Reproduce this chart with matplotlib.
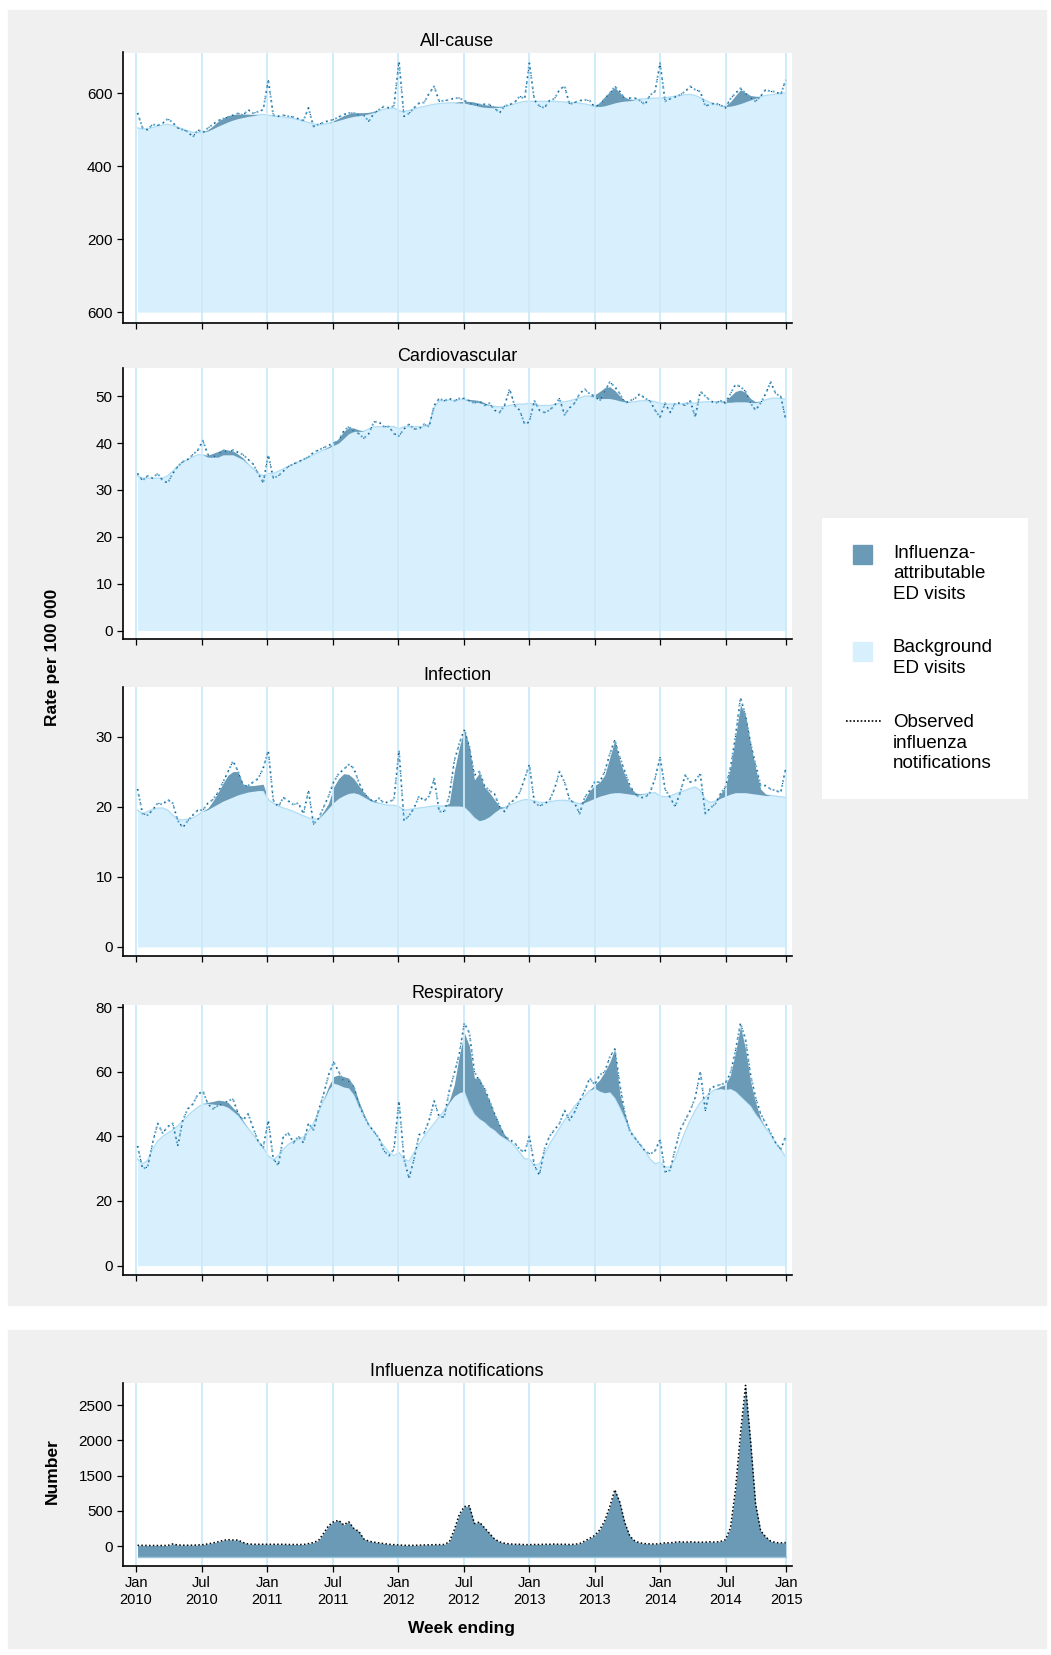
import numpy as np
import pandas as pd
import matplotlib
matplotlib.use('Agg')
import matplotlib.pyplot as plt
from matplotlib.patches import Rectangle

W, H = 1051, 1655
plt.rcParams['font.family'] = ['Liberation Sans', 'DejaVu Sans']

# fortnightly points, Jan 2010 - Dec 2014
weeks = pd.date_range('2010-01-05', periods=130, freq='14D')
xyear = np.array(weeks.year + (weeks.dayofyear - 1) / 365.0)

tick_pos = [2010, 2010.5, 2011, 2011.5, 2012, 2012.5, 2013, 2013.5, 2014, 2014.5, 2014.96]
tick_labels = ['Jan\n2010', 'Jul\n2010', 'Jan\n2011', 'Jul\n2011', 'Jan\n2012', 'Jul\n2012',
               'Jan\n2013', 'Jul\n2013', 'Jan\n2014', 'Jul\n2014', 'Jan\n2015']

# ---- All-cause ----
allcause_obs = [546, 505, 500, 515, 512, 518, 530, 520, 505, 500, 495, 480, 500, 492, 505, 515, 525, 530, 535, 540, 545, 540, 555, 545, 550, 555,
                637, 540, 537, 540, 537, 535, 530, 525, 560, 509, 515, 520, 525, 528, 535, 542, 546, 546, 540, 540, 523, 545, 555, 564, 560, 565,
                688, 537, 545, 560, 573, 575, 600, 619, 578, 580, 582, 587, 587, 580, 572, 569, 569, 570, 569, 560, 546, 565, 569, 575, 592, 585,
                683, 582, 565, 560, 580, 585, 610, 620, 570, 575, 580, 582, 580, 562, 570, 585, 600, 619, 605, 585, 587, 587, 580, 569, 595, 605,
                683, 578, 585, 590, 596, 605, 619, 610, 605, 565, 570, 573, 568, 560, 585, 600, 614, 600, 588, 578, 592, 610, 605, 605, 596, 637]
allcause_bg = [505, 502, 503, 506, 510, 513, 515, 512, 507, 502, 497, 493, 492, 493, 497, 503, 510, 516, 522, 527, 531, 534, 537, 539, 541, 542,
               540, 538, 537, 535, 533, 531, 528, 524, 520, 516, 514, 515, 518, 522, 526, 530, 534, 537, 539, 541, 544, 548, 552, 556, 559, 560,
               552, 550, 553, 557, 561, 564, 567, 570, 572, 573, 574, 574, 574, 573, 571, 568, 564, 562, 561, 561, 562, 564, 567, 571, 575, 578,
               578, 578, 578, 578, 578, 578, 577, 576, 575, 574, 573, 571, 568, 565, 564, 566, 570, 574, 577, 579, 580, 582, 584, 585, 586, 587,
               587, 588, 590, 592, 594, 596, 597, 594, 588, 581, 575, 570, 566, 564, 565, 568, 572, 577, 582, 587, 591, 594, 596, 598, 600, 601]
allcause_flu = [0, 0, 0, 0, 0, 0, 0, 0, 0, 0, 0, 0, 0, 0, 3, 8, 13, 16, 17, 15, 12, 9, 6, 3, 0, 0,
                0, 0, 0, 0, 0, 0, 0, 0, 0, 0, 0, 0, 0, 3, 6, 9, 10, 10, 8, 6, 4, 2, 0, 0, 0, 0,
                0, 0, 0, 0, 0, 0, 0, 0, 0, 0, 0, 0, 3, 5, 7, 8, 8, 7, 6, 4, 2, 0, 0, 0, 0, 0,
                0, 0, 0, 0, 0, 0, 0, 0, 0, 0, 0, 0, 0, 2, 10, 25, 35, 42, 25, 10, 4, 0, 0, 0, 0, 0,
                0, 0, 0, 0, 0, 0, 0, 0, 0, 0, 0, 0, 0, 2, 12, 26, 38, 25, 12, 5, 0, 0, 0, 0, 0, 0]

# ---- Cardiovascular ----
cardio_obs = [33.5, 32, 33, 32.5, 33.5, 32, 31.5, 33.5, 35, 36, 36.5, 37.5, 38.5, 40.5, 37.5, 37, 37.5, 38.5, 38, 38.5, 38, 37.5, 36.5, 35.5, 33.5, 31.5,
              37.5, 32.5, 33, 34, 35, 35.5, 36, 36.5, 37, 38, 38.5, 39, 39.5, 40, 40.5, 42.5, 43.5, 42.5, 42, 41, 42, 44.5, 44.5, 43.5, 43.5, 42,
              41.5, 43, 44, 43, 43, 44, 43.5, 48, 49.5, 49, 49.5, 49, 49.5, 49.5, 49, 48.5, 49, 48, 48.5, 47, 46.5, 48, 51.5, 48, 47, 44,
              44.5, 49, 47, 46.5, 47, 48, 49.5, 46, 47.5, 48.5, 50.5, 51.5, 50.5, 50, 49, 51, 53, 52, 50.5, 48.5, 49, 49.5, 50.5, 49.5, 49, 47,
              45.5, 48.5, 46.5, 48.5, 48.5, 48, 49, 45.5, 51, 50, 49, 48.5, 49, 48.5, 50.5, 52.5, 52, 51, 48.5, 47, 48.5, 50.5, 53, 50.5, 50, 45]
cardio_bg = [33, 32.5, 32.5, 32.5, 32.5, 32.5, 33, 34, 35, 36, 36.5, 37, 37.5, 37.5, 37, 37, 37, 37.5, 37.5, 37.5, 37, 36.5, 35.5, 34.5, 33.5, 33,
             33.5, 33.5, 34, 34.5, 35, 35.5, 36, 36.5, 37, 37.5, 38, 38.5, 39, 39.5, 40, 41, 42, 42.5, 42.5, 42.5, 43, 43.5, 43.5, 43.5, 43.5, 43.5,
             43, 43.5, 43.5, 43.5, 43.5, 43.5, 44, 47.5, 49, 49, 49.2, 49, 49.2, 49.3, 49, 48.8, 48.6, 48.3, 48, 47.8, 47.7, 47.8, 48, 48.2, 48.3, 48.3,
             48.5, 48.3, 48, 48, 48, 48.2, 48.5, 48.8, 49, 49.3, 49.6, 50, 50, 49.8, 49.5, 49.5, 49.5, 49.3, 49, 48.8, 48.7, 48.8, 49, 49, 49, 48.8,
             48.5, 48.3, 48.3, 48.3, 48.3, 48.5, 48.5, 48.5, 48.7, 48.8, 48.8, 48.8, 48.8, 48.7, 48.7, 48.8, 48.8, 48.8, 48.7, 48.6, 48.8, 49.2, 49.5, 49.6, 49.5, 49.3]
cardio_flu = [0, 0, 0, 0, 0, 0, 0, 0, 0, 0, 0, 0, 0, 0, 0.4, 0.8, 1.2, 1.2, 1.0, 0.8, 0.6, 0.3, 0, 0, 0, 0,
              0, 0, 0, 0, 0, 0, 0, 0, 0, 0, 0, 0, 0.2, 0.5, 1.0, 1.5, 1.3, 0.7, 0.3, 0, 0, 0, 0, 0, 0, 0,
              0, 0, 0, 0, 0, 0, 0, 0, 0, 0, 0, 0, 0, 0, 0.3, 0.4, 0.4, 0.3, 0, 0, 0, 0, 0, 0, 0, 0,
              0, 0, 0, 0, 0, 0, 0, 0, 0, 0, 0, 0, 0, 0.5, 1.5, 2.3, 2.5, 1.9, 1.0, 0.3, 0, 0, 0, 0, 0, 0,
              0, 0, 0, 0, 0, 0, 0, 0, 0, 0, 0, 0, 0, 0.4, 1.3, 2.2, 2.5, 2.0, 0.8, 0.2, 0, 0, 0, 0, 0, 0]

# ---- Infection ----
infect_obs = [22.5, 19, 18.8, 19.5, 20.5, 20.3, 21, 20.5, 18, 17, 18, 18.8, 19.5, 19.5, 20.5, 21, 22, 23.5, 25, 26.5, 25, 23, 23, 23.5, 24, 25.5,
              28, 20.9, 20, 21.3, 20.8, 20.3, 20.5, 19, 22.3, 17.5, 18.3, 19.9, 21.5, 23.5, 24.7, 25.3, 26, 25.5, 23.5, 22, 21.2, 20.6, 21.2, 20.5, 20.7, 21,
              28, 18, 18.7, 19.8, 21.5, 20.8, 21.5, 24, 19.3, 19.3, 21.5, 26.5, 29, 31, 28.5, 24.5, 25, 23, 22.3, 21.8, 20, 19.3, 20.5, 21, 22, 24,
              26, 20.6, 20.1, 20.4, 20.9, 22.5, 25, 23.5, 21, 20.5, 19, 21.3, 22.3, 23.5, 23.5, 25, 27.5, 29.5, 27, 25, 23, 21.8, 21.3, 21.3, 22, 24,
              27, 22.5, 21.3, 20, 22, 24.5, 23.5, 23.7, 24.7, 19, 19.8, 20.4, 21.8, 22.8, 25.5, 30, 35.5, 33, 29, 26, 23, 23, 22.5, 22.3, 22, 25.5]
infect_bg = [19.5, 19, 19.3, 19.6, 19.8, 19.8, 19.5, 18.8, 18.2, 18.1, 18.2, 18.4, 18.8, 19.3, 19.6, 20, 20.4, 20.8, 21.1, 21.4, 21.7, 21.9, 22.1, 22.2, 22.3, 22.3,
             21, 20.5, 20.1, 19.8, 19.6, 19.3, 19, 18.7, 18.4, 18.2, 18.3, 19, 19.8, 20.6, 21.2, 21.6, 21.9, 22, 21.8, 21.4, 21, 20.7, 20.5, 20.3, 20.2, 20.2,
             20, 19.5, 19.6, 19.7, 19.8, 19.9, 20, 20.1, 20.1, 20.1, 20.1, 20.1, 20.1, 20, 19.3, 18.5, 18, 18.2, 18.6, 19.2, 19.7, 19.9, 20.2, 20.5, 20.8, 21,
             21, 20.8, 20.6, 20.6, 20.7, 20.8, 20.9, 20.9, 20.8, 20.6, 20.4, 20.6, 20.9, 21.2, 21.5, 21.7, 21.9, 22, 22, 21.9, 21.8, 21.7, 21.7, 21.8, 21.9, 22,
             21.5, 21.4, 21.5, 21.8, 22.1, 22.3, 22.6, 22.8, 22.3, 21, 20.6, 20.8, 21.2, 21.5, 21.8, 22, 22, 22, 21.9, 21.8, 21.7, 21.6, 21.6, 21.5, 21.4, 21.3]
infect_flu = [0, 0, 0, 0, 0, 0, 0, 0, 0, 0, 0, 0, 0, 0, 0.2, 0.8, 1.6, 2.5, 3.4, 3.6, 3.3, 1.3, 0.9, 0.8, 0.8, 0.9,
              0, 0, 0, 0, 0, 0, 0, 0, 0, 0, 0, 0.3, 0.7, 2.2, 2.8, 3.1, 2.7, 2.0, 1.2, 0.6, 0.3, 0.1, 0, 0, 0, 0,
              0, 0, 0, 0, 0, 0, 0, 0, 0, 0, 0.4, 4.9, 8.4, 11, 9.2, 5.3, 6.8, 4.6, 3.4, 1.8, 0.3, 0, 0, 0, 0, 0,
              0, 0, 0, 0, 0, 0, 0, 0, 0, 0, 0, 0.4, 1.4, 1.8, 2.0, 2.8, 5.1, 7.5, 4.5, 2.6, 1.0, 0.3, 0.1, 0, 0, 0,
              0, 0, 0, 0, 0, 0, 0, 0, 0, 0, 0, 0, 0.6, 1.3, 3.7, 8.0, 12.5, 11, 7.1, 3.7, 0.8, 0.2, 0, 0, 0, 0]

# ---- Respiratory ----
resp_obs = [37, 30, 30.5, 38, 44, 41, 43, 44, 37, 45, 48.5, 50, 53, 54, 50, 48.5, 49.5, 50, 51, 51.5, 47, 45, 47, 42.5, 38.5, 36.5,
            45, 33, 31, 40, 41, 38, 40, 38, 44, 42, 48, 53, 59, 63, 60, 57, 57, 55.5, 50, 46.5, 43.5, 41.5, 39.5, 35.5, 34, 36,
            51, 33, 27, 33, 40.5, 41, 45, 51, 46, 46, 54, 59.5, 65.5, 75, 72, 60, 57, 55, 51, 47, 43.5, 40, 39, 38, 36, 35,
            40, 31, 28, 36, 40, 42, 44, 48, 45, 47.5, 51, 54, 58, 56, 59, 60, 64.5, 67, 56, 47, 41.5, 39.5, 37.5, 35.5, 34.5, 35.5,
            39, 29, 29.5, 36, 42, 45, 48, 52, 60, 48, 55, 55.5, 56, 56.5, 59.5, 66.5, 75, 70, 59, 52, 47, 44, 41, 38, 36, 40]
resp_bg = [33, 31.5, 32.5, 36, 38.5, 40, 41, 42, 43.2, 44.8, 46.3, 47.8, 49, 50, 50.2, 50, 49.8, 49.6, 49, 47.8, 46.5, 44.5, 42.5, 40.5, 38.5, 36.5,
           34, 32.8, 34, 36, 37.5, 38.5, 39, 39.8, 41.5, 44, 47.5, 51, 54.5, 56.5, 56, 55.3, 55, 53, 49.6, 46.5, 43.5, 41.5, 39.3, 37, 35, 34,
           35, 33, 32.3, 35, 37.5, 40, 42, 44, 46, 48, 50.5, 52.5, 53.5, 54, 50, 47, 45.5, 44.5, 43, 42, 40.5, 39.5, 38.5, 37, 35, 33,
           33, 31, 31.5, 34.5, 37.5, 40, 42.5, 45, 47, 49.3, 51, 52.5, 54.2, 55, 54, 53.5, 53.8, 52, 49, 45.5, 42, 39.5, 37.5, 35.5, 33, 31.5,
           32, 30.5, 30.5, 33, 37.5, 41.5, 45, 48, 50.5, 52, 53.5, 54.5, 54.8, 54.5, 54.8, 54, 52.5, 51, 49.5, 47, 45, 42.5, 40.5, 38, 36, 33.5]
resp_flu = [0, 0, 0, 0, 0, 0, 0, 0, 0, 0, 0, 0, 0, 0, 0.3, 0.8, 1.4, 1.4, 1.5, 1.0, 0.7, 0.3, 0, 0, 0, 0,
            0, 0, 0, 0, 0, 0, 0, 0, 0, 0, 0, 0, 1.0, 2.0, 3.0, 3.2, 3.0, 2.5, 1.4, 0.5, 0, 0, 0, 0, 0, 0,
            0, 0, 0, 0, 0, 0, 0, 0, 0, 0, 0.5, 3.5, 11.5, 18, 18, 11, 12.5, 10, 8, 5, 3, 1, 0, 0, 0, 0,
            0, 0, 0, 0, 0, 0, 0, 0, 0, 0, 0, 0, 0, 1.0, 3.5, 6.5, 9.2, 15, 4, 1.5, 0, 0, 0, 0, 0, 0,
            0, 0, 0, 0, 0, 0, 0, 0, 0, 0, 0, 0, 0.7, 1.5, 4.2, 12, 21.5, 16, 7.5, 3.5, 0.5, 0, 0, 0, 0, 0]

# ---- Influenza notifications (read against tick positions) ----
notif = [10, 10, 8, 8, 8, 8, 8, 30, 15, 12, 12, 12, 15, 20, 30, 45, 60, 80, 90, 85, 85, 50, 30, 25, 25, 25,
         25, 25, 25, 25, 22, 22, 22, 22, 35, 50, 80, 180, 290, 345, 365, 300, 345, 250, 210, 100, 70, 55, 45, 35, 25, 20,
         15, 10, 10, 10, 12, 15, 18, 20, 20, 22, 60, 230, 450, 560, 570, 320, 340, 260, 180, 100, 60, 40, 30, 25, 25, 20,
         20, 22, 22, 25, 25, 28, 25, 25, 22, 25, 35, 70, 110, 150, 230, 360, 560, 800, 620, 330, 140, 70, 45, 35, 30, 28,
         35, 45, 45, 55, 60, 55, 60, 55, 55, 55, 60, 55, 65, 90, 260, 800, 1600, 2280, 1500, 600, 220, 130, 70, 50, 45, 50]
notif_ticks = [0, 500, 1000, 1500, 2000]
notif_ticklabels = ['0', '500', '1500', '2000', '2500']

DARK = '#6a9ab5'
LIGHT = '#d8f0fd'
BGLINE = '#b3def5'
GRID = '#cdeaf9'
GRAY = '#f0f0f0'
OBS_LIGHT = '#5aaad6'
OBS_DARK = '#1e4a66'


def rect(l, t, r, b):
    return [l / W, 1 - b / H, (r - l) / W, (b - t) / H]


def style_axes(ax, grid_z=2.5):
    ax.set_facecolor('white')
    for s in ['top', 'right']:
        ax.spines[s].set_visible(False)
    for s in ['left', 'bottom']:
        ax.spines[s].set_linewidth(1.2)
        ax.spines[s].set_color('black')
    ax.tick_params(direction='out', length=4, width=0.9, labelsize=11)
    ax.set_xlim(2009.9, 2015.0)
    ax.set_xticks(tick_pos)
    for t in tick_pos:
        ax.axvline(t, color=GRID, lw=1.3, zorder=grid_z)


fig = plt.figure(figsize=(W / 100, H / 100), dpi=100)
fig.add_artist(Rectangle((8 / W, 1 - 1305 / H), 1038 / W, 1295 / H, transform=fig.transFigure,
                         color=GRAY, zorder=-5))
fig.add_artist(Rectangle((8 / W, 1 - 1648 / H), 1038 / W, 318 / H, transform=fig.transFigure,
                         color=GRAY, zorder=-5))

panels = [
    ('All-cause', allcause_obs, allcause_bg, allcause_flu, [0, 200, 400, 600], ['600', '200', '400', '600'], (-29, 712), 52.5, 322.7),
    ('Cardiovascular', cardio_obs, cardio_bg, cardio_flu, [0, 10, 20, 30, 40, 50], None, (-1.8, 56), 368, 639),
    ('Infection', infect_obs, infect_bg, infect_flu, [0, 10, 20, 30], None, (-1.35, 37), 687.4, 956.4),
    ('Respiratory', resp_obs, resp_bg, resp_flu, [0, 20, 40, 60, 80], None, (-2.9, 80.7), 1004.8, 1275),
]

for title, obs, bg, flu, yt, ytl, ylim, top, bot in panels:
    ax = fig.add_axes(rect(123, top, 791.5, bot))
    style_axes(ax)
    obs = np.array(obs)
    bg = np.array(bg)
    tot = bg + np.array(flu)
    ax.fill_between(xyear, 0, bg, color=LIGHT, lw=0, zorder=1)
    ax.plot(xyear, bg, color=BGLINE, lw=1.0, zorder=1.5)
    ax.fill_between(xyear, bg, tot, color=DARK, lw=0, zorder=2)
    ax.plot(xyear, obs, color=OBS_LIGHT, lw=1.4, ls=(0, (1, 1.5)), zorder=3)
    ax.plot(xyear, obs, color=OBS_DARK, lw=0.8, ls=(0, (1, 5)), zorder=3.1)
    ax.set_xticklabels([])
    ax.set_yticks(yt)
    if ytl:
        ax.set_yticklabels(ytl)
    ax.set_ylim(*ylim)
    ax.set_title(title, fontsize=13, pad=5)

# notifications
axn = fig.add_axes(rect(123, 1383, 791.5, 1566))
style_axes(axn, grid_z=0.5)
axn.fill_between(xyear, -150, notif, color=DARK, lw=0, zorder=2)
axn.plot(xyear, [-150] * len(xyear), color='#9cc4da', lw=1.0, zorder=2.2)
axn.plot(xyear, notif, color='black', lw=1.1, ls=(0, (1, 1.5)), zorder=3)
axn.set_xticklabels(tick_labels, fontsize=10.5)
axn.set_yticks(notif_ticks)
axn.set_yticklabels(notif_ticklabels)
axn.set_ylim(-283, 2313)
axn.set_title('Influenza notifications', fontsize=13, pad=5)

fig.text(52.5 / W, 1 - 657 / H, 'Rate per 100 000', rotation=90, fontsize=12.5,
         fontweight='bold', ha='center', va='center')
fig.text(52.5 / W, 1 - 1471 / H, 'Number', rotation=90, fontsize=12.5,
         fontweight='bold', ha='center', va='center')
fig.text(462 / W, 1 - 1628 / H, 'Week ending', fontsize=12.5,
         fontweight='bold', ha='center', va='center')

# legend box
lax = fig.add_axes(rect(822, 518, 1028, 799))
lax.set_xlim(822, 1028)
lax.set_ylim(799, 518)
lax.set_xticks([])
lax.set_yticks([])
for s in lax.spines.values():
    s.set_visible(False)
lax.set_facecolor('white')
lax.add_patch(Rectangle((853, 545), 19, 19, color=DARK))
lax.text(893, 574, 'Influenza-\nattributable\nED visits', va='center', ha='left', fontsize=13.5, linespacing=1.3)
lax.add_patch(Rectangle((853, 642), 19, 19, color=LIGHT))
lax.text(893, 658, 'Background\nED visits', va='center', ha='left', fontsize=13.5, linespacing=1.3)
lax.plot([846, 881], [721, 721], color='black', lw=1.2, ls=(0, (1, 1.2)))
lax.text(893, 743, 'Observed\ninfluenza\nnotifications', va='center', ha='left', fontsize=13.5, linespacing=1.3)

fig.savefig('out.png', dpi=100)
